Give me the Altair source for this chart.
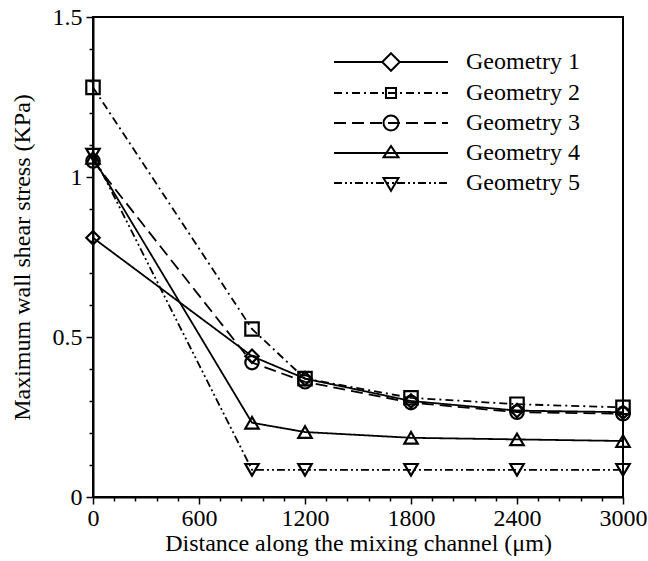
import altair as alt
import pandas as pd

# ---------------- data ----------------
distance = [0, 900, 1200, 1800, 2400, 3000]
geometry_names = ["Geometry 1", "Geometry 2", "Geometry 3", "Geometry 4", "Geometry 5"]
geom1 = [0.81, 0.44, 0.37, 0.30, 0.27, 0.265]
geom2 = [1.28, 0.525, 0.37, 0.31, 0.29, 0.28]
geom3 = [1.05, 0.42, 0.36, 0.295, 0.265, 0.26]
geom4 = [1.06, 0.232, 0.203, 0.185, 0.18, 0.175]
geom5 = [1.07, 0.085, 0.085, 0.085, 0.085, 0.085]

x_tick_values = [0, 120, 240, 360, 480, 600, 720, 840, 960, 1080, 1200, 1320, 1440,
                 1560, 1680, 1800, 1920, 2040, 2160, 2280, 2400, 2520, 2640, 2760, 2880, 3000]
y_tick_values = [0, 0.1, 0.2, 0.3, 0.4, 0.5, 0.6, 0.7, 0.8, 0.9, 1.0,
                 1.1, 1.2, 1.3, 1.4, 1.5]

rows = []
for name, vals in zip(geometry_names, [geom1, geom2, geom3, geom4, geom5]):
    for d, v in zip(distance, vals):
        rows.append({"x": d, "y": v, "Geometry": name})
df = pd.DataFrame(rows)

# ---------------- styles ----------------
FONT = "Liberation Serif"
FS = 24
dash_px = [[], [8, 4, 2, 4], [12, 6], [], [8, 3, 2, 3, 2, 3]]
line_dash = [d if d else [1, 0] for d in dash_px]
point_shapes = ["diamond", "square", "circle", "triangle-up", "triangle-down"]

# legend symbols: custom paths (line + marker), unit = 7 px (symbol size 196)
U = 7.0
HALF = 57.0


def f(v):
    return ("%.3f" % v).rstrip("0").rstrip(".")


def line_path(pattern, skip=0.0):
    segs = []
    if not pattern:
        segs = [(-HALF, HALF)]
    else:
        pos, i, on = -HALF, 0, True
        while pos < HALF:
            step = pattern[i % len(pattern)]
            end = min(pos + step, HALF)
            if on:
                segs.append((pos, end))
            pos = end
            on = not on
            i += 1
    out = []
    for a, b in segs:
        pieces = [(a, b)]
        if skip > 0:
            pieces = []
            if a < -skip:
                pieces.append((a, min(b, -skip)))
            if b > skip:
                pieces.append((max(a, skip), b))
        for p, q in pieces:
            if q - p > 0.3:
                out.append("M%s,0H%s" % (f(p / U), f(q / U)))
    return "".join(out)


d = 1.25
s = 0.72
r = 1.07
markers = [
    "M0,%sL%s,0L0,%sL%s,0Z" % (f(-d), f(d), f(d), f(-d)),
    "M%s,%sH%sV%sH%sZ" % (f(-s), f(-s), f(s), f(s), f(-s)),
    "M%s,0A%s,%s 0 1,1 %s,0A%s,%s 0 1,1 %s,0Z" % (f(r), f(r), f(r), f(-r), f(r), f(r), f(r)),
    "M0,-1L1.07,0.62L-1.07,0.62Z",
    "M0,1.1L1.07,-0.7L-1.07,-0.7Z",
]
skips = [d * U, 0, 0, 0, 0]
legend_paths = [line_path(p, sk) + m for p, sk, m in zip(dash_px, skips, markers)]

x_axis = alt.Axis(
    values=x_tick_values,
    format="d",
    labelExpr="datum.value % 600 === 0 ? datum.label : ''",
    tickSize={"condition": {"test": "datum.value % 600 === 0", "value": 7}, "value": 4},
    labelOverlap=False,
    labelFlush=False,
    labelPadding=2,
    titlePadding=1,
    grid=False,
    title="Distance along the mixing channel (\u03bcm)",
)
y_axis = alt.Axis(
    values=y_tick_values,
    labelExpr="abs(datum.value*2 - round(datum.value*2)) < 0.001 ? toString(round(datum.value*2)/2) : ''",
    tickSize={"condition": {"test": "abs(datum.value*2 - round(datum.value*2)) < 0.001", "value": 7}, "value": 4},
    labelOverlap=False,
    labelFlush=False,
    labelPadding=4,
    titlePadding=18,
    grid=False,
    title="Maximum wall shear stress (KPa)",
)

base = alt.Chart(df).encode(
    x=alt.X("x:Q", scale=alt.Scale(domain=[0, 3000], nice=False, zero=False), axis=x_axis),
    y=alt.Y("y:Q", scale=alt.Scale(domain=[0, 1.5], nice=False), axis=y_axis),
)

lines = base.mark_line(color="black", strokeWidth=1.8).encode(
    strokeDash=alt.StrokeDash("Geometry:N",
                              scale=alt.Scale(domain=geometry_names, range=line_dash),
                              legend=None),
    detail="Geometry:N",
)

points = base.mark_point(color="black", filled=False, size=180, strokeWidth=2.2, opacity=1).encode(
    shape=alt.Shape("Geometry:N",
                    scale=alt.Scale(domain=geometry_names, range=point_shapes),
                    legend=None),
)

legend_layer = base.mark_point(color="black", filled=False, size=196, opacity=0).encode(
    shape=alt.Shape("Geometry:N",
                    scale=alt.Scale(domain=geometry_names, range=legend_paths),
                    legend=alt.Legend(
                        title=None,
                        orient="none",
                        legendX=240,
                        legendY=33,
                        padding=0,
                        symbolSize=196,
                        symbolStrokeWidth=2,
                        symbolStrokeColor="black",
                        symbolOpacity=1,
                        symbolOffset=46,
                        labelOffset=63,
                        rowPadding=6,
                        labelFont=FONT,
                        labelFontSize=FS,
                        labelColor="black",
                        labelLimit=300,
                    )),
)

chart = (
    alt.layer(lines, points, legend_layer)
    .resolve_scale(shape="independent")
    .properties(
        width=530,
        height=480,
        autosize=alt.AutoSizeParams(type="none"),
        padding={"left": 93, "top": 17, "right": 25, "bottom": 64},
        background="white",
    )
    .configure_view(stroke="black", strokeWidth=2)
    .configure_axis(
        domainColor="black",
        domainWidth=2,
        tickColor="black",
        tickWidth=1.5,
        labelFont=FONT,
        labelFontSize=FS,
        labelColor="black",
        titleFont=FONT,
        titleFontSize=FS,
        titleFontWeight="normal",
        titleColor="black",
    )
)

chart.save("out.html", embed_options={"renderer": "svg", "actions": False})
